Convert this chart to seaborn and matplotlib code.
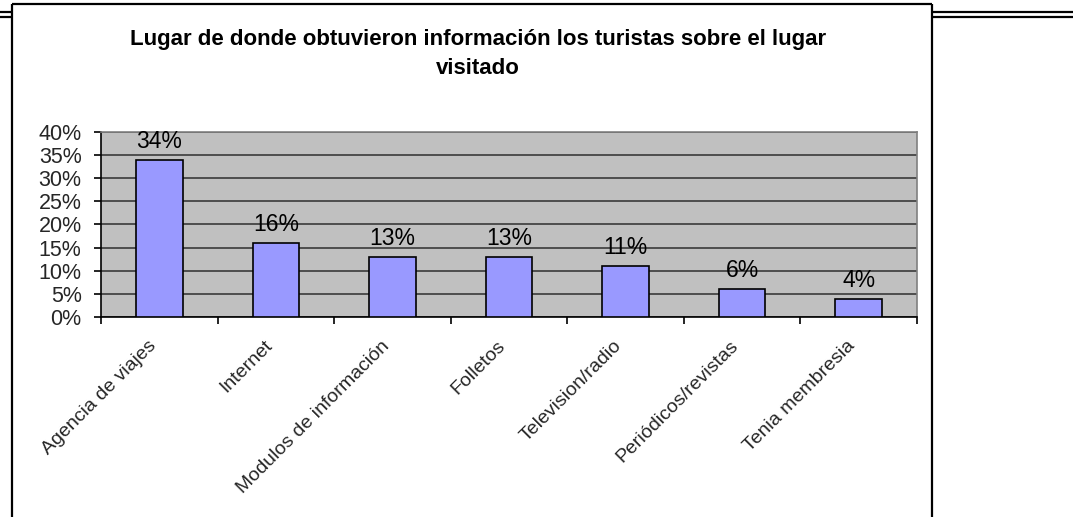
""" Lugar de donde obtuvieron informacion los turistas """

import matplotlib
matplotlib.use("Agg")
import matplotlib.pyplot as plt
from matplotlib.lines import Line2D
from matplotlib.patches import Rectangle
from matplotlib.ticker import PercentFormatter, FixedLocator
from matplotlib.transforms import ScaledTranslation
import seaborn as sns
import pandas as pd

categorias = ["Agencia de viajes", "Internet", "Modulos de información",
              "Folletos", "Television/radio", "Periódicos/revistas",
              "Tenia membresia"]
porcentajes = [0.34, 0.16, 0.13, 0.13, 0.11, 0.06, 0.04]
etiquetas = ["34%", "16%", "13%", "13%", "11%", "6%", "4%"]

W, H = 1073, 517

sns.set_theme(style="white")
plt.rcParams["font.family"] = ["Liberation Sans", "DejaVu Sans"]

fig = plt.figure(figsize=(W / 100, H / 100), dpi=100)
fig.patch.set_facecolor("white")


def px(x, y):
    return x / W, 1 - y / H


# marco del grafico y lineas del documento
def linea(x0, y0, x1, y1, lw=1.6):
    (a, b), (c, d) = px(x0, y0), px(x1, y1)
    fig.add_artist(Line2D([a, c], [b, d], transform=fig.transFigure,
                          color="black", lw=lw, solid_capstyle="butt",
                          zorder=20))


left, top = px(101, 132)
right, bottom = px(917, 317)
ax = fig.add_axes([left, bottom, right - left, top - bottom])

df = pd.DataFrame({"categoria": categorias, "valor": porcentajes})
sns.barplot(data=df, x="categoria", y="valor", color="#9999FF",
            saturation=1, edgecolor="black", linewidth=1.2, width=0.4,
            ax=ax, zorder=3)

ax.set_facecolor("#C0C0C0")
ax.set_xlim(-0.5, len(categorias) - 0.5)
ax.set_ylim(0, 0.40)
ax.set_yticks([i * 0.05 for i in range(9)])
ax.yaxis.set_major_formatter(PercentFormatter(1.0, decimals=0))
ax.yaxis.grid(True, color="#3a3a3a", lw=1.2, zorder=0)
ax.set_axisbelow(True)

for s in ["top", "right"]:
    ax.spines[s].set_color("#808080")
    ax.spines[s].set_linewidth(1.2)
for s in ["left", "bottom"]:
    ax.spines[s].set_color("black")
    ax.spines[s].set_linewidth(1.2)

ax.tick_params(axis="y", which="major", left=True, length=5, width=1.2,
               color="black", pad=9, labelsize=15.5)
ax.xaxis.set_minor_locator(FixedLocator([i - 0.5 for i in range(len(categorias) + 1)]))
ax.tick_params(axis="x", which="minor", bottom=True, length=5, width=1.2,
               color="black")
ax.tick_params(axis="x", which="major", bottom=False, length=0, pad=19,
               labelsize=14)
ax.set_xticks(range(len(categorias)))
ax.set_xticklabels(categorias, rotation=45, ha="right", va="center",
                   rotation_mode="anchor")
desplaza = ScaledTranslation(-6 / 100, 0, fig.dpi_scale_trans)
for lab in ax.get_xticklabels():
    lab.set_transform(lab.get_transform() + desplaza)
ax.set_xlabel("")
ax.set_ylabel("")

ax.bar_label(ax.containers[0], labels=etiquetas, padding=5, fontsize=16.5,
             color="black")

fig.text(478 / W, 1 - 54 / H,
         "Lugar de donde obtuvieron información los turistas sobre el lugar\nvisitado",
         ha="center", va="center", fontsize=16, fontweight="bold",
         linespacing=1.55, color="black")

# margen blanco fuera del marco
x0, y0 = px(0, H)
x1, y1 = px(11, 22)
fig.add_artist(Rectangle((x0, y0), x1 - x0, y1 - y0, transform=fig.transFigure,
                         facecolor="white", edgecolor="none", zorder=15))

linea(12, 4, 932, 4)
linea(12, 4, 12, H)
linea(932, 4, 932, H)
linea(932, 12, W, 12)
linea(932, 17, W, 17)
linea(0, 12, 12, 12)
linea(0, 17, 12, 17)

fig.savefig("out.png", dpi=100)
